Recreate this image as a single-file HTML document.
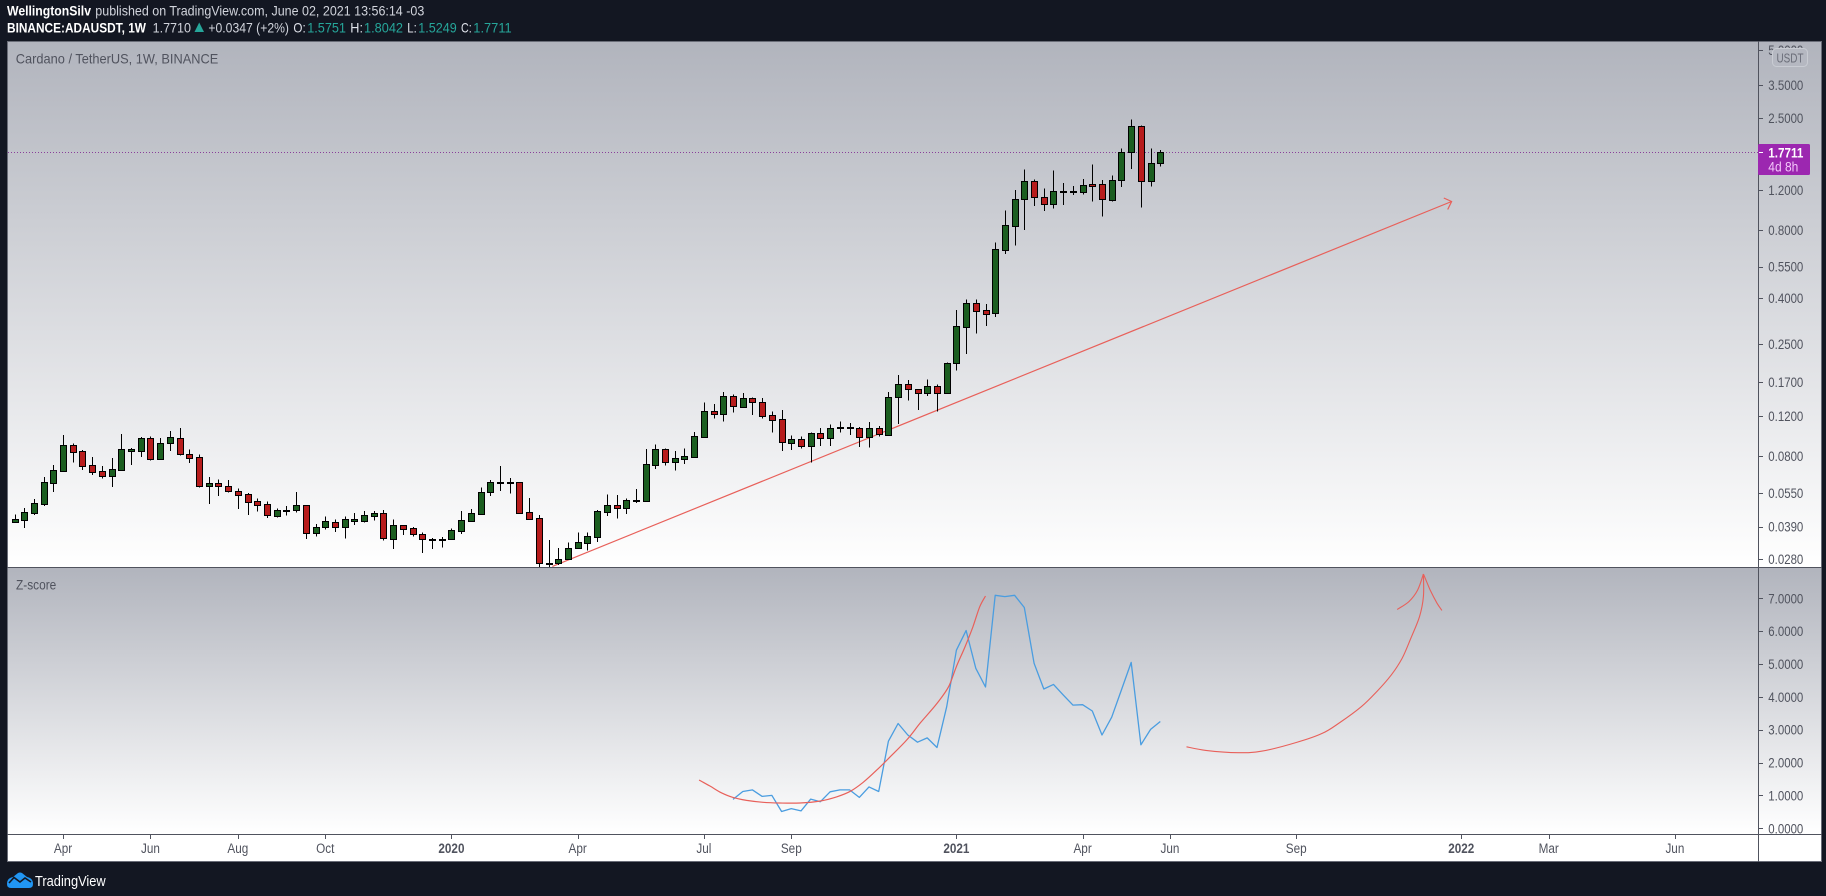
<!DOCTYPE html>
<html lang="en">
<head>
<meta charset="utf-8">
<title>ADAUSDT 1W with Z-score</title>
<style>
html,body{margin:0;padding:0;background:#131722;width:1826px;height:896px;overflow:hidden}
svg{display:block;font-family:"Liberation Sans",sans-serif}
</style>
</head>
<body>
<svg id="root" width="1826" height="896" viewBox="0 0 1826 896" xmlns="http://www.w3.org/2000/svg">
  <defs>
    <linearGradient id="g1" gradientUnits="userSpaceOnUse" x1="0" y1="41" x2="0" y2="567"><stop offset="0" stop-color="#b1b4bd"/><stop offset="1" stop-color="#ffffff"/></linearGradient>
    <linearGradient id="g2" gradientUnits="userSpaceOnUse" x1="0" y1="567" x2="0" y2="834"><stop offset="0" stop-color="#b1b4bd"/><stop offset="1" stop-color="#ffffff"/></linearGradient>
    <clipPath id="clipPrice"><rect x="8" y="41" width="1750" height="526"/></clipPath>
    <clipPath id="clipZ"><rect x="8" y="568" width="1750" height="266"/></clipPath>
  </defs>
  <rect x="0" y="0" width="1826" height="896" fill="#131722"/>
  <rect x="7" y="41" width="1815" height="526" fill="url(#g1)"/>
  <rect x="7" y="567" width="1815" height="267" fill="url(#g2)"/>
  <rect x="7" y="834" width="1815" height="28" fill="#ffffff"/>

  <g id="header">
    <text x="7" y="15.5" font-size="14" font-weight="700" fill="#ffffff" textLength="84" lengthAdjust="spacingAndGlyphs">WellingtonSilv</text>
    <text x="95.3" y="15.5" font-size="14" fill="#d1d4dc" textLength="329" lengthAdjust="spacingAndGlyphs">published on TradingView.com, June 02, 2021 13:56:14 -03</text>
    <text x="7" y="32.5" font-size="14" font-weight="700" fill="#ffffff" textLength="139" lengthAdjust="spacingAndGlyphs">BINANCE:ADAUSDT, 1W</text>
    <text x="152.6" y="32.5" font-size="14" fill="#d1d4dc" textLength="38.4" lengthAdjust="spacingAndGlyphs">1.7710</text>
    <polygon points="194.5,32 204,32 199.2,22.5" fill="#26a69a"/>
    <text x="208.4" y="32.5" font-size="14" fill="#d1d4dc" textLength="80.6" lengthAdjust="spacingAndGlyphs">+0.0347 (+2%)</text>
    <text x="293.4" y="32.5" font-size="14" fill="#e0e3eb" textLength="12.3" lengthAdjust="spacingAndGlyphs">O:</text>
    <text x="307.2" y="32.5" font-size="14" fill="#26a69a" textLength="38.8" lengthAdjust="spacingAndGlyphs">1.5751</text>
    <text x="350.3" y="32.5" font-size="14" fill="#e0e3eb" textLength="12.7" lengthAdjust="spacingAndGlyphs">H:</text>
    <text x="364" y="32.5" font-size="14" fill="#26a69a" textLength="39" lengthAdjust="spacingAndGlyphs">1.8042</text>
    <text x="407.3" y="32.5" font-size="14" fill="#e0e3eb" textLength="9.5" lengthAdjust="spacingAndGlyphs">L:</text>
    <text x="418.3" y="32.5" font-size="14" fill="#26a69a" textLength="38.4" lengthAdjust="spacingAndGlyphs">1.5249</text>
    <text x="461" y="32.5" font-size="14" fill="#e0e3eb" textLength="10.7" lengthAdjust="spacingAndGlyphs">C:</text>
    <text x="473.3" y="32.5" font-size="14" fill="#26a69a" textLength="38.4" lengthAdjust="spacingAndGlyphs">1.7711</text>
  </g>

  <text x="15.8" y="63.5" font-size="14" fill="#50535e" textLength="202.5" lengthAdjust="spacingAndGlyphs">Cardano / TetherUS, 1W, BINANCE</text>
  <text x="16" y="589.5" font-size="14" fill="#50535e" textLength="40.3" lengthAdjust="spacingAndGlyphs">Z-score</text>

  <g id="pricePlot" clip-path="url(#clipPrice)"></g>
  <g id="zPlot" clip-path="url(#clipZ)"></g>
  <g id="axisLines">
    <rect x="7.5" y="41.5" width="1814" height="820" fill="none" stroke="#6a6d78"/>
    <line x1="7" y1="567.5" x2="1822" y2="567.5" stroke="#50535e"/>
    <line x1="7" y1="834.5" x2="1822" y2="834.5" stroke="#50535e"/>
    <line x1="1758.5" y1="41" x2="1758.5" y2="862" stroke="#50535e"/>
  </g>
  <g id="priceAxis"></g>
  <g id="zAxis"></g>
  <g id="timeAxis"></g>

  <g>
    <rect x="1772.5" y="48.5" width="35" height="18" rx="4" fill="#b5b8c1" stroke="#c9ccd3"/>
    <text x="1776.5" y="62.5" font-size="13" fill="#6a6d78" textLength="27" lengthAdjust="spacingAndGlyphs">USDT</text>
  </g>
  <g id="priceTag"></g>

  <g>
    <path d="M7 884 Q7 878 13 877 L18 873 Q20 872 22 873 L27 877 Q33 878 33 884 Q33 888 29 888 L11 888 Q7 888 7 884 Z" fill="#2196f3"/>
    <polyline points="9,883 14,877.5 20,882 25,878 31,882" fill="none" stroke="#131722" stroke-width="1.6"/>
    <text x="35" y="886" font-size="15" fill="#ffffff" textLength="70.7" lengthAdjust="spacingAndGlyphs">TradingView</text>
  </g>
</svg>
<script>
// Weekly candles, week 0 = late Feb 2019
const opens = [.0410,.0419,.0450,.0492,.0610,.0689,.0893,.0840,.0729,.0685,.0655,.0696,.0845,.0845,.0960,.0776,.0911,.0960,.0814,.0791,.0587,.0607,.0590,.0559,.0542,.0504,.0489,.0436,.0462,.0463,.0484,.0367,.0387,.0410,.0390,.0414,.0414,.0436,.0447,.0345,.0396,.0385,.0363,.0339,.0339,.0343,.0374,.0414,.0445,.0553,.0610,.0610,.0613,.0451,.0425,.0268,.0268,.0279,.0314,.0331,.0352,.0454,.0484,.0473,.0506,.0507,.0733,.0857,.0756,.0779,.0794,.0974,.1262,.1232,.1471,.1322,.1443,.1383,.1212,.1163,.0917,.0949,.0888,.1009,.0960,.1060,.1060,.1063,.0974,.1063,.0995,.1457,.1661,.1579,.1526,.1625,.1526,.2058,.2988,.3791,.3530,.3420,.654,.834,1.093,1.313,1.124,1.045,1.181,1.173,1.173,1.273,1.273,1.088,1.326,1.765,2.298,1.313,1.5751];
const highs = [.0442,.0471,.0517,.0645,.0729,.0991,.0911,.0851,.0791,.0724,.0783,.1001,.0869,.0971,.0978,.0962,.1033,.1065,.0857,.0814,.0645,.0631,.0627,.0576,.0548,.0518,.0504,.0468,.0481,.0555,.0487,.0400,.0433,.0420,.0433,.0448,.0456,.0456,.0462,.0420,.0397,.0389,.0367,.0347,.0350,.0382,.0457,.0467,.0582,.0627,.0724,.0640,.0615,.0521,.0438,.0340,.0313,.0332,.0368,.0368,.0461,.0542,.0537,.0520,.0572,.0859,.0902,.0866,.0842,.0866,.1022,.1383,.1360,.1532,.1494,.1518,.1449,.1443,.1258,.1279,.0988,.0978,.1019,.1063,.1105,.1140,.1120,.1075,.1132,.1087,.1532,.1826,.1736,.1585,.1748,.1661,.2079,.354,.3947,.3947,.3756,.7054,.977,1.201,1.484,1.340,1.221,1.469,1.287,1.252,1.343,1.561,1.330,1.394,1.837,2.467,2.321,1.837,1.8042];
const lows = [.0409,.0384,.0440,.0481,.0555,.0682,.0748,.0694,.0659,.0636,.0584,.0687,.0731,.0793,.0764,.0771,.0842,.0803,.0746,.0582,.0492,.0532,.0551,.0467,.0439,.0454,.0426,.0427,.0436,.0450,.0344,.0352,.0378,.0369,.0346,.0396,.0406,.0414,.0338,.0310,.0358,.0352,.0298,.0310,.0316,.0341,.0362,.0410,.0438,.0532,.0560,.0545,.0444,.0419,.0259,.0259,.0264,.0278,.0313,.0305,.0333,.0435,.0423,.0444,.0497,.0502,.0701,.0726,.0689,.0739,.0790,.0962,.1170,.1135,.1244,.1305,.1215,.1170,.1015,.0842,.0851,.0862,.0749,.0885,.0888,.1015,.0992,.0877,.0871,.0974,.0985,.1110,.1406,.1279,.1475,.1258,.1510,.1909,.2263,.2785,.3012,.3296,.626,.683,.799,1.021,.970,.993,1.032,1.141,1.146,1.067,.915,1.067,1.239,1.487,1.003,1.245,1.5249];
const closes = [.0420,.0451,.0494,.0613,.0692,.0893,.0837,.0725,.0682,.0655,.0700,.0857,.0857,.0960,.0779,.0911,.0971,.0814,.0786,.0587,.0607,.0587,.0559,.0540,.0502,.0487,.0440,.0464,.0464,.0484,.0367,.0389,.0412,.0390,.0420,.0422,.0438,.0447,.0347,.0396,.0382,.0363,.0343,.0343,.0343,.0376,.0416,.0447,.0553,.0613,.0615,.0617,.0450,.0423,.0268,.0269,.0280,.0315,.0332,.0354,.0456,.0484,.0473,.0509,.0509,.0736,.0857,.0756,.0783,.0798,.0978,.1262,.1232,.1471,.1328,.1443,.1383,.1206,.1159,.0920,.0949,.0888,.1009,.0960,.1063,.1075,.1075,.0974,.1063,.0998,.1457,.1661,.1579,.1526,.1625,.1526,.2058,.3002,.3791,.3515,.3409,.657,.839,1.093,1.313,1.120,1.045,1.186,1.186,1.186,1.261,1.256,1.093,1.326,1.765,2.298,1.313,1.578,1.7711];

// Z-score series, begins at week 74
const zFirstWeek = 74;
const zScores = [.88,1.12,1.17,.97,1.00,.51,.60,.53,.89,.81,1.11,1.17,1.17,.94,1.26,1.12,2.65,3.19,2.84,2.62,2.75,2.46,3.70,5.42,6.02,4.87,4.30,7.09,7.05,7.09,6.72,5.02,4.24,4.38,4.06,3.75,3.76,3.57,2.84,3.38,4.21,5.05,2.54,3.01,3.25];

// Axis ticks
const priceTicks = [5,3.5,2.5,1.2,.8,.55,.4,.25,.17,.12,.08,.055,.039,.028];
const zTicks = [7,6,5,4,3,2,1,0];
const timeTickLabels = ["Apr","Jun","Aug","Oct","2020","Apr","Jul","Sep","2021","Apr","Jun","Sep","2022","Mar","Jun"];
const timeTickWeeks = [5,14,23,32,45,58,71,80,97,110,119,132,149,158,171];

// Hand-drawn annotations, expressed in chart data units (week, price or z value)
const trendWeeks = [55.4,148];
const trendPrices = [.0260,1.069];
const arrowWeeks = [147.2,148,147.6];
const arrowPrices = [1.107,1.069,.985];
const dipCurveWeeks = [70.5,71.6,72.8,74.0,75.4,77.1,78.8,80.9,83.0,84.7,86.1,87.4,88.8,90.2,91.9,93.3,95.0,96.2,97.0,97.9,98.7,99.4,100.0];
const dipCurveValues = [1.47,1.29,1.08,.94,.85,.79,.77,.77,.83,.96,1.13,1.40,1.77,2.18,2.69,3.21,3.80,4.31,4.92,5.53,6.13,6.74,7.07];
const forecastWeeks = [120.7,122.7,126.0,128.5,132.0,134.7,136.5,138.7,140.2,141.8,142.9,143.8,144.7,145.1,145.1];
const forecastValues = [2.48,2.37,2.30,2.35,2.61,2.89,3.22,3.70,4.13,4.67,5.17,5.78,6.44,7.05,7.74];
const headLeftWeeks = [142.4,143.6,144.5,145.1];
const headLeftValues = [6.66,6.90,7.25,7.74];
const headRightWeeks = [145.1,145.8,146.5,147.0];
const headRightValues = [7.74,7.25,6.85,6.63];

const lastClose = 1.7711;
const countdown = "4d 8h";

const NS = "http://www.w3.org/2000/svg";
function xOf(week){ return 14.5 + 9.71 * week; }
function yOfPrice(p){ return 85 + 98.2 * Math.log(3.5 / p); }
function yOfZ(v){ return 828.3 - 32.86 * v; }
function make(tag, parent){ const e = document.createElementNS(NS, tag); parent.appendChild(e); return e; }
function label(parent, str, x, y, size, fill, width){
  const t = make("text", parent);
  t.textContent = str;
  t.setAttribute("x", x); t.setAttribute("y", y);
  t.setAttribute("font-size", size); t.setAttribute("fill", fill);
  if (width){ t.setAttribute("textLength", width); t.setAttribute("lengthAdjust", "spacingAndGlyphs"); }
  return t;
}
function pointsOf(xs, ys, fx, fy){ return xs.map(function(w, i){ return fx(w).toFixed(1) + "," + fy(ys[i]).toFixed(1); }).join(" "); }
// smooth curve through data points (Catmull-Rom)
function smoothPath(xs, ys, fx, fy){
  const p = xs.map(function(w, i){ return [fx(w), fy(ys[i])]; });
  let d = "M" + p[0][0].toFixed(1) + " " + p[0][1].toFixed(1);
  for (let i = 0; i < p.length - 1; i++){
    const a = p[Math.max(0, i - 1)], b = p[i], c = p[i + 1], e = p[Math.min(p.length - 1, i + 2)];
    const c1x = b[0] + (c[0] - a[0]) / 6, c1y = b[1] + (c[1] - a[1]) / 6;
    const c2x = c[0] - (e[0] - b[0]) / 6, c2y = c[1] - (e[1] - b[1]) / 6;
    d += " C" + c1x.toFixed(1) + " " + c1y.toFixed(1) + " " + c2x.toFixed(1) + " " + c2y.toFixed(1) + " " + c[0].toFixed(1) + " " + c[1].toFixed(1);
  }
  return d;
}

const pricePlot = document.getElementById("pricePlot");
const zPlot = document.getElementById("zPlot");

// last-price dotted line
const dotted = make("line", pricePlot);


dotted.setAttribute("x1", 8); dotted.setAttribute("x2", 1758);
dotted.setAttribute("y1", Math.round(yOfPrice(lastClose)) + .5); dotted.setAttribute("y2", Math.round(yOfPrice(lastClose)) + .5);
dotted.setAttribute("stroke", "#7b1f8f"); dotted.setAttribute("stroke-dasharray", "1 2"); dotted.setAttribute("stroke-opacity", ".8");

// trend line, drawn beneath candles
const trend = make("polyline", pricePlot);


trend.setAttribute("points", pointsOf(trendWeeks, trendPrices, xOf, yOfPrice));
trend.setAttribute("fill", "none"); trend.setAttribute("stroke", "#e8605a"); trend.setAttribute("stroke-width", "1.2");
const arrow = make("polyline", pricePlot);


arrow.setAttribute("points", pointsOf(arrowWeeks, arrowPrices, xOf, yOfPrice));
arrow.setAttribute("fill", "none"); arrow.setAttribute("stroke", "#e8605a"); arrow.setAttribute("stroke-width", "1.2");

// candles
opens.forEach(function(o, i){
  const c = closes[i];
  const cx = Math.round(xOf(i)) + .5;
  const g = make("g", pricePlot);
  
  
  const wick = make("line", g);
  
  
  wick.setAttribute("x1", cx); wick.setAttribute("x2", cx);
  wick.setAttribute("y1", yOfPrice(highs[i]).toFixed(1)); wick.setAttribute("y2", yOfPrice(lows[i]).toFixed(1));
  wick.setAttribute("stroke", "#000000"); wick.setAttribute("shape-rendering", "crispEdges");
  const top = yOfPrice(Math.max(o, c)), bot = yOfPrice(Math.min(o, c));
  const body = make("rect", g);
  
  
  body.setAttribute("x", cx - 3);
  body.setAttribute("width", 6);
  body.setAttribute("y", Math.round(top) + .5);
  body.setAttribute("height", Math.max(1, Math.round(bot) - Math.round(top)));
  body.setAttribute("fill", c >= o ? "#1b5e20" : "#b71c1c");
  body.setAttribute("stroke", "#000000");
  body.setAttribute("shape-rendering", "crispEdges");
});

// z-score line
const zWeeks = zScores.map(function(v, i){ return zFirstWeek + i; });
const zLine = make("polyline", zPlot);


zLine.setAttribute("points", pointsOf(zWeeks, zScores, xOf, yOfZ));
zLine.setAttribute("fill", "none"); zLine.setAttribute("stroke", "#4a9de0"); zLine.setAttribute("stroke-width", "1.3"); zLine.setAttribute("stroke-linejoin", "round");

// freehand curves
const dipCurve = make("path", zPlot);


dipCurve.setAttribute("d", smoothPath(dipCurveWeeks, dipCurveValues, xOf, yOfZ));
dipCurve.setAttribute("fill", "none"); dipCurve.setAttribute("stroke", "#e8605a"); dipCurve.setAttribute("stroke-width", "1.2");
const forecast = make("path", zPlot);


forecast.setAttribute("d", smoothPath(forecastWeeks, forecastValues, xOf, yOfZ));
forecast.setAttribute("fill", "none"); forecast.setAttribute("stroke", "#e8605a"); forecast.setAttribute("stroke-width", "1.1");
const headLeft = make("path", zPlot);


headLeft.setAttribute("d", smoothPath(headLeftWeeks, headLeftValues, xOf, yOfZ));
headLeft.setAttribute("fill", "none"); headLeft.setAttribute("stroke", "#e8605a"); headLeft.setAttribute("stroke-width", "1.1");
const headRight = make("path", zPlot);


headRight.setAttribute("d", smoothPath(headRightWeeks, headRightValues, xOf, yOfZ));
headRight.setAttribute("fill", "none"); headRight.setAttribute("stroke", "#e8605a"); headRight.setAttribute("stroke-width", "1.1");

// price axis
const priceAxis = document.getElementById("priceAxis");
priceTicks.forEach(function(p){
  const y = yOfPrice(p);
  const tick = make("line", priceAxis);
  
  
  tick.setAttribute("x1", 1759); tick.setAttribute("x2", 1763);
  tick.setAttribute("y1", Math.round(y) + .5); tick.setAttribute("y2", Math.round(y) + .5);
  tick.setAttribute("stroke", "#50535e");
  const t = label(priceAxis, p.toFixed(4), 1768.3, y + 5, 13.5, "#50535e", 35);
  
  
});

// z axis
const zAxis = document.getElementById("zAxis");
zTicks.forEach(function(v){
  const y = yOfZ(v);
  const tick = make("line", zAxis);
  
  
  tick.setAttribute("x1", 1759); tick.setAttribute("x2", 1763);
  tick.setAttribute("y1", Math.round(y) + .5); tick.setAttribute("y2", Math.round(y) + .5);
  tick.setAttribute("stroke", "#50535e");
  const t = label(zAxis, v.toFixed(4), 1768.3, y + 5, 13.5, "#50535e", 35);
  
  
});

// time axis
const timeAxis = document.getElementById("timeAxis");
timeTickLabels.forEach(function(str, i){
  const x = xOf(timeTickWeeks[i]);
  const tick = make("line", timeAxis);
  
  
  tick.setAttribute("x1", Math.round(x) + .5); tick.setAttribute("x2", Math.round(x) + .5);
  tick.setAttribute("y1", 835); tick.setAttribute("y2", 839);
  tick.setAttribute("stroke", "#50535e");
  const isYear = /^\d+$/.test(str);
  const t = label(timeAxis, str, x, 853, 13.5, "#50535e");
  
  
  t.setAttribute("text-anchor", "middle");
  if (isYear) t.setAttribute("font-weight", "700");
  t.setAttribute("textLength", (t.getComputedTextLength() * .87).toFixed(1));
  t.setAttribute("lengthAdjust", "spacingAndGlyphs");
});

// last price tag
const tag = document.getElementById("priceTag");
const tagBox = make("rect", tag);


tagBox.setAttribute("x", 1758); tagBox.setAttribute("y", 144);
tagBox.setAttribute("width", 52); tagBox.setAttribute("height", 31);
tagBox.setAttribute("rx", 1.5); tagBox.setAttribute("fill", "#9c27b0");
const tagTick = make("line", tag);


tagTick.setAttribute("x1", 1759); tagTick.setAttribute("x2", 1763);
tagTick.setAttribute("y1", 152.5); tagTick.setAttribute("y2", 152.5);
tagTick.setAttribute("stroke", "#ffffff");
const tagValue = label(tag, lastClose.toFixed(4), 1768.3, 157.5, 13.5, "#ffffff", 35);


tagValue.setAttribute("font-weight", "700");
const tagTime = label(tag, countdown, 1768.3, 171.5, 13.5, "#f3c6fa", 30);


</script>
</body>
</html>
